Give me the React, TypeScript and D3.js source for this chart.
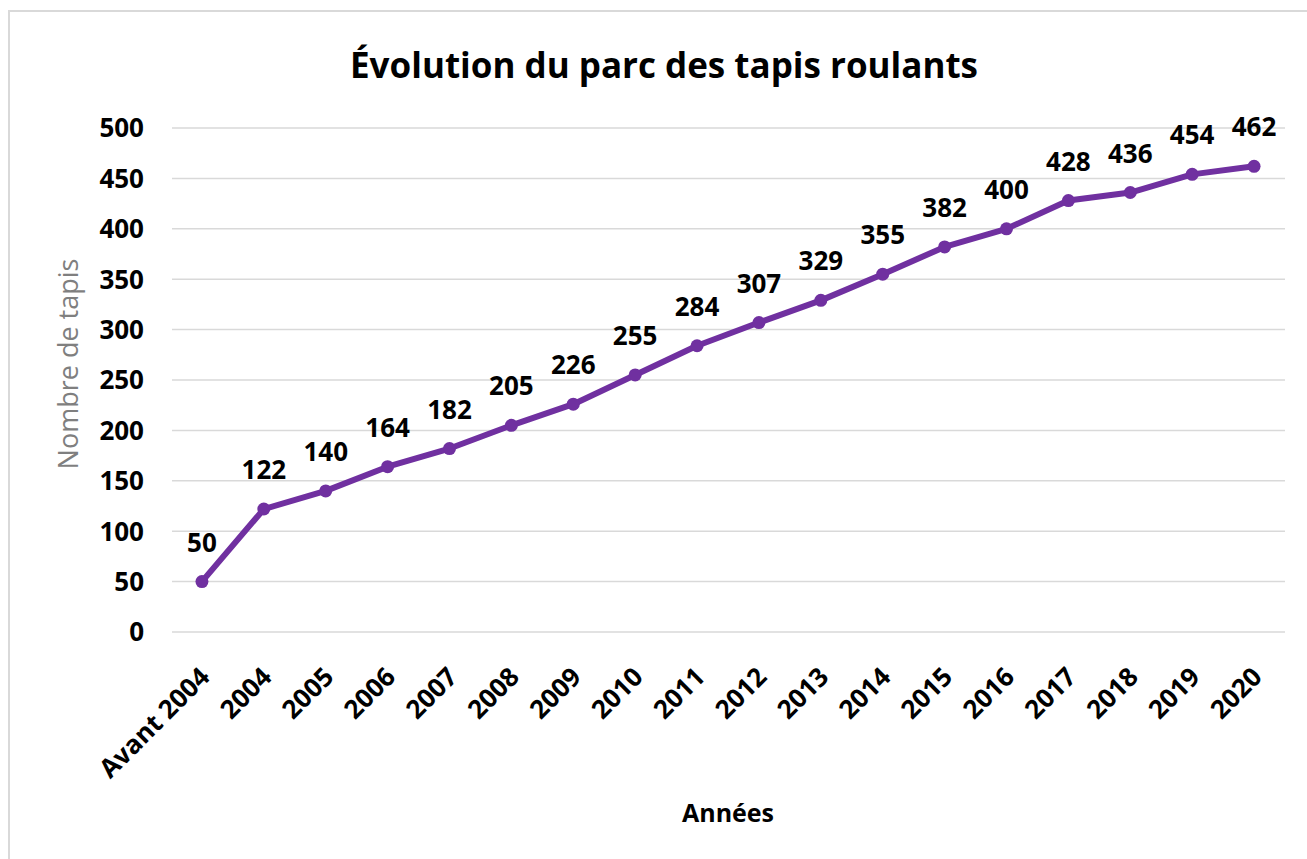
import React from "react";
import * as d3 from "d3";

const categories = ["Avant 2004", "2004", "2005", "2006", "2007", "2008", "2009", "2010", "2011", "2012", "2013", "2014", "2015", "2016", "2017", "2018", "2019", "2020"];
const values = [50, 122, 140, 164, 182, 205, 226, 255, 284, 307, 329, 355, 382, 400, 428, 436, 454, 462];
const yTicks = [0, 50, 100, 150, 200, 250, 300, 350, 400, 450, 500];

const W = 1307;
const H = 859;
const FONT = "'Open Sans', 'DejaVu Sans', sans-serif";
const COLOR = "#7030A0";

export default function App() {
  const x = d3.scalePoint<string>().domain(categories).range([171, 1285]).padding(0.5);
  const y = d3.scaleLinear().domain([0, 500]).range([632, 128]);
  const line = d3
    .line<number>()
    .x((_, i) => x(categories[i]) as number)
    .y((d) => y(d));

  return (
    <svg width={W} height={H} style={{ position: "absolute", left: 0, top: 0, background: "#fff" }}>
      <rect x={0} y={0} width={W} height={H} fill="#fff" />
      <rect x={9} y={11} width={W + 20} height={H + 20} fill="none" stroke="#d9d9d9" strokeWidth={2} />
      <text x={664} y={78} textAnchor="middle" fontFamily={FONT} fontWeight={700} fontSize={35} fill="#000">
        Évolution du parc des tapis roulants
      </text>
      {yTicks.map((t) => (
        <g key={t}>
          <line x1={172} x2={1285} y1={y(t)} y2={y(t)} stroke="#d9d9d9" strokeWidth={1.5} />
          <text x={144} y={y(t)} dy="0.36em" textAnchor="end" fontFamily={FONT} fontWeight={700} fontSize={26} fill="#000">
            {t}
          </text>
        </g>
      ))}
      <text
        transform={`translate(78,364) rotate(-90)`}
        textAnchor="middle"
        fontFamily={FONT}
        fontSize={27}
        fill="#7f7f7f"
      >
        Nombre de tapis
      </text>
      <path d={line(values) || ""} fill="none" stroke={COLOR} strokeWidth={6} strokeLinejoin="round" />
      {values.map((v, i) => (
        <circle key={i} cx={x(categories[i]) as number} cy={y(v)} r={6.5} fill={COLOR} />
      ))}
      {values.map((v, i) => (
        <text
          key={"l" + i}
          x={x(categories[i]) as number}
          y={y(v) - 30}
          textAnchor="middle"
          fontFamily={FONT}
          fontWeight={700}
          fontSize={26}
          fill="#000"
        >
          {v}
        </text>
      ))}
      {categories.map((c) => (
        <text
          key={"x" + c}
          transform={`translate(${(x(c) as number) + 3},672) rotate(-45)`}
          textAnchor="end"
          dy="0.35em"
          fontFamily={FONT}
          fontWeight={700}
          fontSize={26}
          fill="#000"
        >
          {c}
        </text>
      ))}
      <text x={728} y={822} textAnchor="middle" fontFamily={FONT} fontWeight={700} fontSize={25} fill="#000">
        Années
      </text>
    </svg>
  );
}
